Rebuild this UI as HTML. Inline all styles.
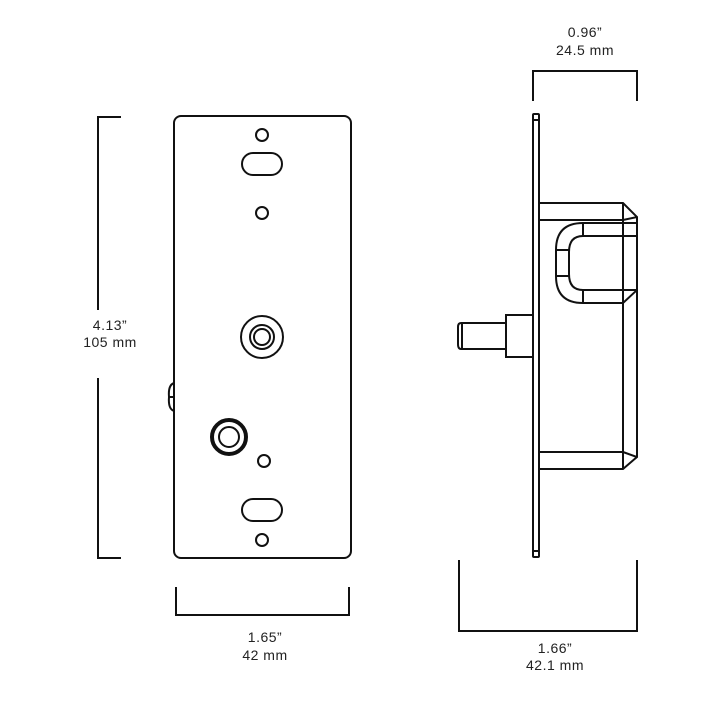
<!DOCTYPE html>
<html><head><meta charset="utf-8"><style>
html,body{margin:0;padding:0;background:#fff;}
svg{display:block;}
text{font-family:"Liberation Sans",sans-serif;font-size:14px;fill:#222;stroke:none;text-anchor:middle;letter-spacing:0.5px;}
</style></head><body>
<svg width="710" height="710" viewBox="0 0 710 710" xmlns="http://www.w3.org/2000/svg" fill="none" stroke="#111" stroke-width="2">
<rect x="174" y="116" width="177" height="442" rx="7"/>
<circle cx="262" cy="135" r="6"/>
<rect x="242" y="153" width="40" height="22" rx="11"/>
<circle cx="262" cy="213" r="6"/>
<circle cx="262" cy="337" r="21"/>
<circle cx="262" cy="337" r="12"/>
<circle cx="262" cy="337" r="8"/>
<circle cx="229" cy="437" r="17" stroke-width="4"/>
<circle cx="229" cy="437" r="10"/>
<circle cx="264" cy="461" r="6"/>
<rect x="242" y="499" width="40" height="22" rx="11"/>
<circle cx="262" cy="540" r="6"/>
<path d="M174 383 Q168 385 169 397 Q168 409 174 411 M169 397 H174"/>
<path d="M121 117 H98 V310 M98 378 V558 H121"/>
<text x="110" y="330">4.13”</text>
<text x="110" y="347">105 mm</text>
<path d="M176 587 V615 H349 V587"/>
<text x="265" y="642">1.65”</text>
<text x="265" y="660">42 mm</text>
<rect x="533" y="114" width="6" height="443" rx="1"/>
<path d="M533 120 H539 M533 551 H539"/>
<path d="M539 203 H623 L637 217 V457 L623 469 H539"/>
<path d="M539 220 H623 V203 M623 220 L637 217"/>
<path d="M539 452 H623 V469 M623 452 L637 457 M623 220 V452"/>
<path d="M637 223 H583 Q556 223 556 250 V276 Q556 303 583 303 H623 L637 290"/>
<path d="M637 236 H583 Q569 236 569 252 V274 Q569 290 583 290 H637"/>
<path d="M583 223 V236 M583 290 V303 M556 250 H569 M556 276 H569"/>
<rect x="506" y="315" width="27" height="42"/>
<path d="M506 323 H461 Q458 323 458 327 V344 Q458 349 461 349 H506 M462 323 V349"/>
<path d="M533 101 V71 H637 V101"/>
<text x="585" y="37">0.96”</text>
<text x="585" y="55">24.5 mm</text>
<path d="M459 560 V631 H637 V560"/>
<text x="555" y="653">1.66”</text>
<text x="555" y="670">42.1 mm</text>
</svg>
</body></html>
